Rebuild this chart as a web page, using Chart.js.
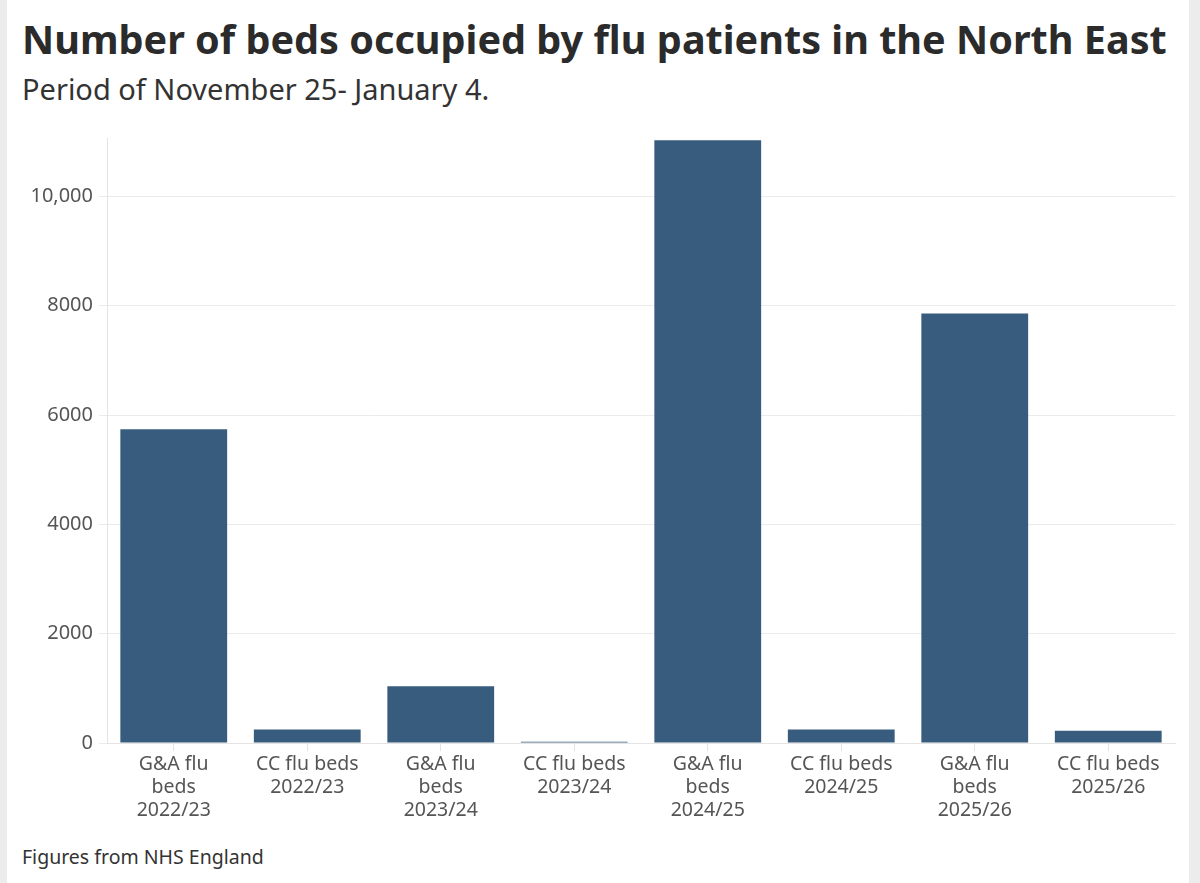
<!DOCTYPE html>
<html>
<head>
<meta charset="utf-8">
<script src="https://cdn.jsdelivr.net/npm/chart.js@4"></script>
<style>
  html, body { margin: 0; padding: 0; background: #fff; }
  body { width: 1200px; height: 883px; position: relative; overflow: hidden; font-family: "Noto Sans", sans-serif; }
  .edge-l { position: absolute; left: 0; top: 0; width: 7px; height: 883px; background: #ececec; }
  .edge-r { position: absolute; right: 0; top: 0; width: 11px; height: 883px; background: #ececec; }
  h1 { position: absolute; left: 22px; top: 12px; margin: 0; font-size: 39.6px; font-weight: 700; color: #2b2b2b; white-space: nowrap; }
  .sub { position: absolute; left: 22px; top: 69px; font-size: 29px; color: #333; white-space: nowrap; }
  .foot { position: absolute; left: 22px; top: 843px; font-size: 19.5px; color: #333; }
  .wrap { position: absolute; left: 0; top: 120px; width: 1200px; height: 710px; }
</style>
</head>
<body>
<div class="edge-l"></div>
<div class="edge-r"></div>
<h1>Number of beds occupied by flu patients in the North East</h1>
<div class="sub">Period of November 25- January 4.</div>
<div class="wrap"><canvas id="bedsChart"></canvas></div>
<div class="foot">Figures from NHS England</div>
<script>
const categories = [
  ['G&A flu', 'beds', '2022/23'],
  ['CC flu beds', '2022/23'],
  ['G&A flu', 'beds', '2023/24'],
  ['CC flu beds', '2023/24'],
  ['G&A flu', 'beds', '2024/25'],
  ['CC flu beds', '2024/25'],
  ['G&A flu', 'beds', '2025/26'],
  ['CC flu beds', '2025/26'],
];
const bedsOccupied = [5740, 245, 1040, 25, 11030, 245, 7860, 226];
const yTicks = [0, 2000, 4000, 6000, 8000, 10000];

const ctx = document.getElementById('bedsChart').getContext('2d');
new Chart(ctx, {
  type: 'bar',
  data: {
    labels: categories,
    datasets: [{
      label: 'Beds occupied',
      data: bedsOccupied,
      backgroundColor: '#385c7d',
      barPercentage: 0.8,
      categoryPercentage: 1,
    }],
  },
  options: {
    responsive: true,
    maintainAspectRatio: false,
    animation: false,
    layout: { padding: { top: 16, right: 25, left: 0, bottom: 0 } },
    plugins: {
      legend: { display: false },
      tooltip: { enabled: false },
    },
    scales: {
      x: {
        grid: { drawOnChartArea: false, offset: false, tickLength: 8, color: '#e4e4e4' },
        border: { color: '#e4e4e4' },
        ticks: {
          color: '#555',
          font: { family: 'Noto Sans', size: 19.5, lineHeight: 1.17 },
          maxRotation: 0,
          autoSkip: false,
          padding: 2,
        },
        afterFit: (scale) => { scale.height = 87; },
      },
      y: {
        min: 0,
        max: 11070,
        afterBuildTicks: (scale) => { scale.ticks = yTicks.map(v => ({ value: v })); },
        grid: { color: '#ebebeb', tickLength: 8 },
        border: { color: '#e4e4e4' },
        ticks: {
          color: '#555',
          font: { family: 'Noto Sans', size: 20 },
          padding: 6,
          callback: (v) => v >= 10000 ? v.toLocaleString('en-GB') : String(v),
        },
        afterFit: (scale) => { scale.width = 107; },
      },
    },
  },
});
</script>
</body>
</html>
